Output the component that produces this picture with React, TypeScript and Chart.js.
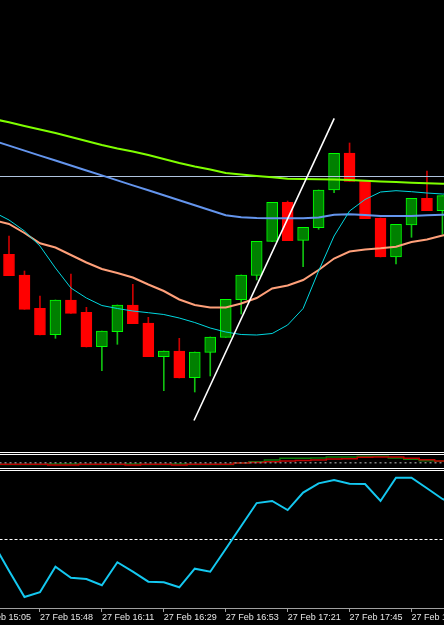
import React, { useEffect, useRef } from 'react';
import { Chart, registerables } from 'chart.js';

Chart.register(...registerables);

// ---------- DATA (price values in chart points; bar index 0 = first full candle) ----------
const opens = [197.7, 177, 143.7, 117.3, 152, 139.7, 105.3, 120.3, 147, 129, 95.3, 101, 74.3, 99.7, 114.7, 152.3, 176.7, 210.7, 249.7, 211.7, 224.3, 262, 299, 270.7, 234, 195, 227, 253.7, 241.3];
const highs = [216, 181, 156, 152, 178, 144.7, 121, 147, 167.7, 134.7, 101, 113.7, 100, 115, 152.7, 177, 210.7, 249.7, 251, 224.7, 262, 298.7, 309, 270.7, 234, 227.7, 253.7, 281, 256.3];
const lows = [176.3, 142.7, 117, 113.7, 138.7, 105, 81.3, 107.7, 128.3, 95.3, 61.3, 74, 60, 76, 114.7, 138, 172, 210.7, 211.3, 185.3, 222.7, 259.3, 270.7, 233.3, 195, 188, 214.7, 241.3, 218];
const closes = [176.3, 142.7, 117, 152, 138.7, 105, 121, 147, 128.3, 95.3, 101, 74, 100, 115, 152.7, 177, 210.7, 249.7, 211.3, 224.7, 262, 298.7, 270.7, 233.3, 195, 227.7, 253.7, 241.3, 256.3];

// moving averages, first value belongs to bar -1, last to bar 29
const MA_START = -1;
const maSlowGreen = [333, 329.7, 326, 322.5, 319, 315, 311, 307, 303.5, 300.5, 297, 293, 289, 285.5, 282.5, 279, 277.5, 276, 274.7, 273.3, 273, 272.7, 272.4, 272, 271.3, 270.5, 270, 269.3, 268.8, 268.2, 267.7];
const maSlowBlue = [311.4, 306.4, 301.4, 296.4, 291.5, 286.5, 281.5, 276.6, 271.6, 266.6, 261.7, 256.7, 251.7, 246.7, 241.8, 236.8, 234.8, 234, 233.7, 233.7, 233.7, 234.5, 237.3, 237.7, 237, 236, 236, 236, 236.8, 237.3, 237.5];
const maMidSalmon = [232, 228, 219, 208.7, 204.5, 197, 189.5, 183, 179, 174.5, 167.5, 161, 152.5, 147, 144.5, 144.5, 148.5, 154, 163.5, 166.5, 172, 182, 193.5, 200.5, 202.5, 203.7, 205.3, 210, 212.5, 216.5, 220];
const maFastCyan = [240, 232, 221, 206, 184, 164, 154, 146.5, 143.5, 141, 139.3, 137.5, 134, 129.5, 124, 120, 117.5, 117, 118.5, 127, 143.5, 181, 216, 241, 252.5, 260, 261.3, 260.3, 259, 258, 257.5];

const horizontalLevel = 275.5;
// trend line: [bar position, price]
const trendStart = [11.95, 31.5];
const trendEnd = [21.01, 333.7];

// small oscillator window (bars -1 .. 29)
const oscRed = [-1.6, -1.6, -1.6, -1.6, -2.3, -2.3, -1.6, -1.6, -1.6, -2.3, -1.6, -1.6, -2.3, -1.6, -1.6, -1.6, -0.3, 0.2, 1.0, 1.7, 2.2, 2.7, 3.7, 4.0, 5.4, 5.7, 5.7, 4.4, 3.0, 1.7, 0.8];
const oscGreen = [-1.8, -1.8, -1.8, -1.8, -1.3, -1.3, -1.8, -1.8, -1.8, -1.3, -1.8, -1.8, -1.3, -1.8, -1.8, -1.8, -0.3, 1.0, 2.7, 4.4, 4.4, 4.7, 5.7, 5.7, 6.4, 6.4, 4.7, 3.4, 2.0, 1.4, 1.0];

// RSI (bars -1 .. 29)
const rsi = [47.0, 27.2, 8.0, 11.5, 30.1, 22.1, 21.2, 16.6, 33.4, 26.5, 19.2, 18.8, 15.1, 28.7, 26.5, 43.1, 59.9, 76.6, 78.1, 71.5, 84.2, 91.0, 93.4, 90.7, 90.5, 78.1, 95.1, 95.1, 87.4, 79.6, 75.0];
const rsiLevel = 50;

// time axis
const tickBars = [-2, 2, 6, 10, 14, 18, 22, 26];
const tickLabels = ['27 Feb 15:05', '27 Feb 15:48', '27 Feb 16:11', '27 Feb 16:29', '27 Feb 16:53', '27 Feb 17:21', '27 Feb 17:45', '27 Feb 18:09'];

// visible window in bar units
const VIEW_MIN = -0.5814;
const VIEW_MAX = 28.1008;

const BULL_BODY = '#008000';
const BULL_EDGE = '#00ff00';
const BULL_WICK = '#10c010';
const BEAR_BODY = '#ff0000';
const BEAR_WICK = '#cc0000';

function series(values: number[], start: number) {
  return values.map((v, k) => ({ x: k + start, y: v }));
}

const baseOpts: any = {
  responsive: false,
  maintainAspectRatio: false,
  animation: false,
  devicePixelRatio: 1,
  events: [],
  layout: { padding: 0 },
  plugins: { legend: { display: false }, tooltip: { enabled: false } },
};

const hiddenX: any = { type: 'linear', min: VIEW_MIN, max: VIEW_MAX, bounds: 'data', offset: false, display: false };

export default function App() {
  const mainRef = useRef<HTMLCanvasElement>(null);
  const oscRef = useRef<HTMLCanvasElement>(null);
  const rsiRef = useRef<HTMLCanvasElement>(null);

  useEffect(() => {
    const charts: Chart[] = [];
    const bars = opens.map((_, i) => i);
    const bull = bars.map((i) => closes[i] >= opens[i]);
    const line = (data: any[], color: string, width: number, extra: any = {}) => ({
      type: 'line',
      data,
      borderColor: color,
      borderWidth: width,
      pointRadius: 0,
      tension: 0,
      fill: false,
      order: 1,
      ...extra,
    });

    if (mainRef.current) {
      charts.push(
        new Chart(mainRef.current, {
          type: 'bar',
          data: {
            datasets: [
              line(series(maFastCyan, MA_START), '#00d8e0', 1),
              line(series(maMidSalmon, MA_START), '#ffa07a', 2),
              line(series(maSlowBlue, MA_START), '#6495ed', 2),
              line(series(maSlowGreen, MA_START), '#7fff00', 2),
              line(
                [
                  { x: VIEW_MIN - 1, y: horizontalLevel },
                  { x: VIEW_MAX + 1, y: horizontalLevel },
                ],
                '#b0c4de',
                1
              ),
              line(
                [
                  { x: trendStart[0], y: trendStart[1] },
                  { x: trendEnd[0], y: trendEnd[1] },
                ],
                '#ffffff',
                1.6,
                { order: 0 }
              ),
              {
                type: 'bar',
                data: bars.map((i) => ({ x: i, y: [opens[i], closes[i]] })),
                backgroundColor: bars.map((i) => (bull[i] ? BULL_BODY : BEAR_BODY)),
                borderColor: bars.map((i) => (bull[i] ? BULL_EDGE : BEAR_BODY)),
                borderWidth: 1,
                borderSkipped: false,
                barThickness: 11,
                grouped: false,
                order: 2,
              },
              {
                type: 'bar',
                data: bars.map((i) => ({ x: i, y: [lows[i], highs[i]] })),
                backgroundColor: bars.map((i) => (bull[i] ? BULL_WICK : BEAR_WICK)),
                borderWidth: 0,
                barThickness: 1,
                grouped: false,
                order: 3,
              },
            ] as any,
          },
          options: {
            ...baseOpts,
            scales: {
              x: hiddenX,
              y: { type: 'linear', min: 0, max: 452, display: false },
            },
          },
        })
      );
    }

    if (oscRef.current) {
      charts.push(
        new Chart(oscRef.current, {
          type: 'line',
          data: {
            datasets: [
              line(series(oscGreen, -1), '#0a7a0a', 1.5, { stepped: 'middle', order: 2 }),
              line(series(oscRed, -1), '#c00000', 1.5, { stepped: 'middle', order: 1 }),
              line(
                [
                  { x: VIEW_MIN - 1, y: 0 },
                  { x: VIEW_MAX + 1, y: 0 },
                ],
                '#808080',
                1.5,
                { borderDash: [2, 3], order: 0 }
              ),
            ] as any,
          },
          options: {
            ...baseOpts,
            scales: {
              x: hiddenX,
              y: { type: 'linear', min: -5.3, max: 7.7, display: false },
            },
          },
        })
      );
    }

    if (rsiRef.current) {
      charts.push(
        new Chart(rsiRef.current, {
          type: 'line',
          data: {
            datasets: [
              line(
                [
                  { x: VIEW_MIN - 1, y: rsiLevel },
                  { x: VIEW_MAX + 1, y: rsiLevel },
                ],
                '#ffffff',
                1,
                { borderDash: [3, 2], order: 2 }
              ),
              line(series(rsi, -1), '#14c8f0', 2, { order: 1 }),
            ] as any,
          },
          options: {
            ...baseOpts,
            scales: {
              x: {
                type: 'linear',
                min: VIEW_MIN,
                max: VIEW_MAX,
                bounds: 'data',
                offset: false,
                position: 'bottom',
                afterBuildTicks: (s: any) => {
                  s.ticks = tickBars.map((v) => ({ value: v }));
                },
                afterFit: (s: any) => {
                  s.paddingLeft = 0;
                  s.paddingRight = 0;
                  s.height = 17;
                },
                grid: {
                  display: true,
                  drawOnChartArea: false,
                  drawTicks: true,
                  tickLength: 4,
                  tickColor: '#a0a0a0',
                  color: '#a0a0a0',
                },
                border: { display: true, color: '#a0a0a0', width: 1 },
                ticks: {
                  autoSkip: false,
                  maxRotation: 0,
                  minRotation: 0,
                  align: 'start',
                  padding: 0,
                  color: '#e6e6e6',
                  font: { family: 'Liberation Sans', size: 9 },
                  callback: (_v: any, i: number) => tickLabels[i] ?? '',
                },
              },
              y: { type: 'linear', min: 0, max: 100, display: false },
            },
          } as any,
        })
      );
    }

    return () => charts.forEach((c) => c.destroy());
  }, []);

  return (
    <div style={{ position: 'fixed', left: 0, top: 0, width: 444, height: 625, background: '#000', overflow: 'hidden' }}>
      <div style={{ position: 'absolute', left: 0, top: 0, width: 444, height: 452, borderBottom: '1px solid #fff' }}>
        <canvas ref={mainRef} width={444} height={452} style={{ display: 'block' }} />
      </div>
      <div style={{ position: 'absolute', left: 0, top: 454, width: 444, height: 13, borderTop: '1px solid #fff', borderBottom: '1px solid #fff' }}>
        <canvas ref={oscRef} width={444} height={13} style={{ display: 'block' }} />
      </div>
      <div style={{ position: 'absolute', left: 0, top: 470, width: 444, height: 154, borderTop: '1px solid #fff' }}>
        <canvas ref={rsiRef} width={444} height={154} style={{ display: 'block' }} />
      </div>
    </div>
  );
}
